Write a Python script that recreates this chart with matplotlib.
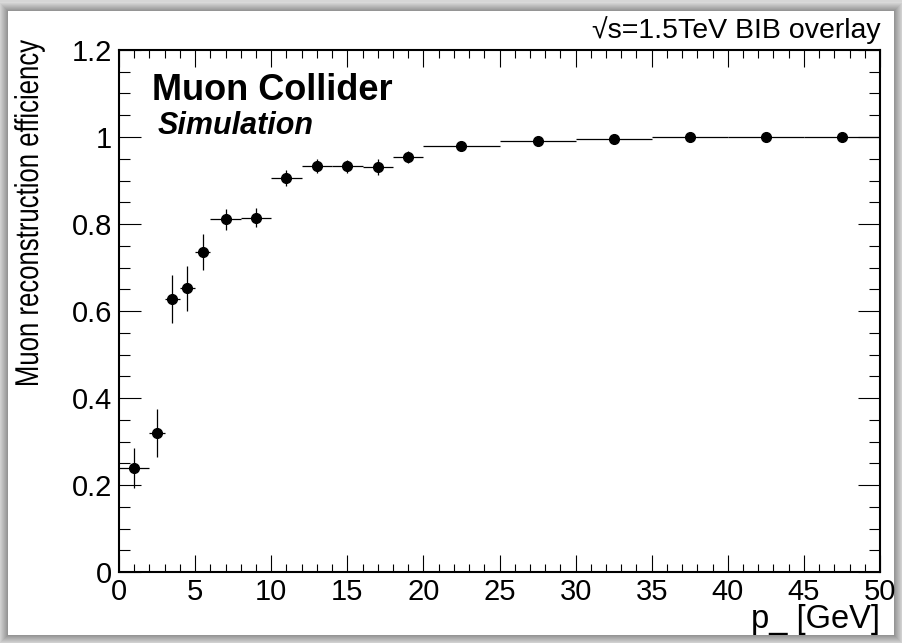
#!/usr/bin/env python3

import matplotlib
matplotlib.use("Agg")
from matplotlib import pyplot as plt
from matplotlib.font_manager import FontProperties
from matplotlib.patches import PathPatch, Rectangle
from matplotlib.textpath import TextPath
from matplotlib.ticker import MultipleLocator
from matplotlib.transforms import Affine2D
import numpy as np


W, H = 903, 643
DPI = 100

# p bins [GeV] and reconstruction efficiency per bin
bin_lo = [0, 2, 3, 4, 5, 6, 8, 10, 12, 14, 16, 18, 20, 25, 30, 35, 40, 45]
bin_hi = [2, 3, 4, 5, 6, 8, 10, 12, 14, 16, 18, 20, 25, 30, 35, 40, 45, 50]
efficiency = [0.238, 0.320, 0.628, 0.652, 0.735, 0.811, 0.814, 0.906, 0.933,
              0.933, 0.931, 0.954, 0.980, 0.991, 0.995, 1.000, 1.000, 1.000]
eff_err = [0.046, 0.055, 0.055, 0.051, 0.041, 0.024, 0.022, 0.018, 0.016,
           0.015, 0.018, 0.0145, 0.005, 0.004, 0.003, 0.001, 0.001, 0.001]


def px(x, y):
    """Pixel position (from top left) to figure fraction."""
    return x / W, 1 - y / H


def draw_canvas(fig):
    # grey drop shadow around the white canvas
    x0, y0, x1, y1 = 8, 11, 894, 635
    n = 9
    for k in range(n, 0, -1):
        g = 0.55 + 0.30 * k / n
        fx, fy = px(x0 - k, y1 + k)
        fig.patches.append(Rectangle((fx, fy), (x1 - x0 + 2 * k) / W,
                                     (y1 - y0 + 2 * k) / H,
                                     transform=fig.transFigure,
                                     facecolor=(g, g, g), edgecolor="none",
                                     zorder=-3))
    fx, fy = px(x0, y1)
    fig.patches.append(Rectangle((fx, fy), (x1 - x0) / W, (y1 - y0) / H,
                                 transform=fig.transFigure, facecolor="white",
                                 edgecolor="none", zorder=-2))


def draw_narrow_ylabel(fig, text, x_base, y_bottom, y_top, em):
    """Vertical title squeezed along its length to fit y_bottom..y_top."""
    tp = TextPath((0, 0), text, size=em,
                  prop=FontProperties(family="Liberation Sans"))
    ext = tp.get_extents()
    squeeze = (y_bottom - y_top) / ext.width
    trans = (Affine2D().translate(-ext.x0, 0).scale(squeeze, 1.0)
             .rotate_deg(90).translate(x_base, H - y_bottom))
    fig.add_artist(PathPatch(tp, transform=trans, facecolor="black",
                             edgecolor="none"))


def plot_efficiency():
    plt.rcParams["font.family"] = ["Liberation Sans", "DejaVu Sans"]
    fig = plt.figure(figsize=(W / DPI, H / DPI), dpi=DPI)
    fig.patch.set_facecolor("#d6d6d6")
    draw_canvas(fig)

    left, right, top, bottom = 119, 880, 50, 572
    ax = fig.add_axes([left / W, 1 - bottom / H, (right - left) / W,
                       (bottom - top) / H])
    ax.set_facecolor("none")

    lo = np.array(bin_lo, dtype=float)
    hi = np.array(bin_hi, dtype=float)
    eff = np.array(efficiency)
    err = np.array(eff_err)
    x = 0.5 * (lo + hi)
    err_up = np.minimum(err, 1.0 - eff)

    ax.errorbar(x, eff, xerr=[x - lo, hi - x], yerr=[err, err_up],
                fmt="o", color="black", ms=7, elinewidth=0.9, capsize=0)

    ax.set_xlim(0, 50)
    ax.set_ylim(0, 1.2)
    ax.xaxis.set_major_locator(MultipleLocator(5))
    ax.xaxis.set_minor_locator(MultipleLocator(1))
    ax.yaxis.set_minor_locator(MultipleLocator(0.05))
    ax.set_yticks([0, 0.2, 0.4, 0.6, 0.8, 1.0, 1.2])
    ax.set_yticklabels(["0", "0.2", "0.4", "0.6", "0.8", "1", "1.2"])

    ax.tick_params(which="both", direction="in", top=True, right=True,
                   width=0.8, labelsize=21)
    ax.tick_params(axis="x", which="major", length=12, pad=4)
    ax.tick_params(axis="x", which="minor", length=6)
    ax.tick_params(axis="y", which="major", length=16, pad=5)
    ax.tick_params(axis="y", which="minor", length=8)
    for sp in ax.spines.values():
        sp.set_linewidth(1.5)

    draw_narrow_ylabel(fig, "Muon reconstruction efficiency",
                       x_base=38, y_bottom=385, y_top=40, em=33)
    fig.text(*px(880, 628), "p_ [GeV]", ha="right", va="baseline",
             fontsize=23.5)
    fig.text(*px(881, 38), "\u221as=1.5TeV BIB overlay", ha="right",
             va="baseline", fontsize=20.5)
    fig.text(*px(152, 100), "Muon Collider", ha="left", va="baseline",
             fontsize=26, fontweight="bold")
    fig.text(*px(158, 134), "Simulation", ha="left", va="baseline",
             fontsize=22, fontweight="bold", fontstyle="italic")
    return fig


def main():
    fig = plot_efficiency()
    fig.savefig("out.png", dpi=DPI)


if __name__ == "__main__":
    main()
